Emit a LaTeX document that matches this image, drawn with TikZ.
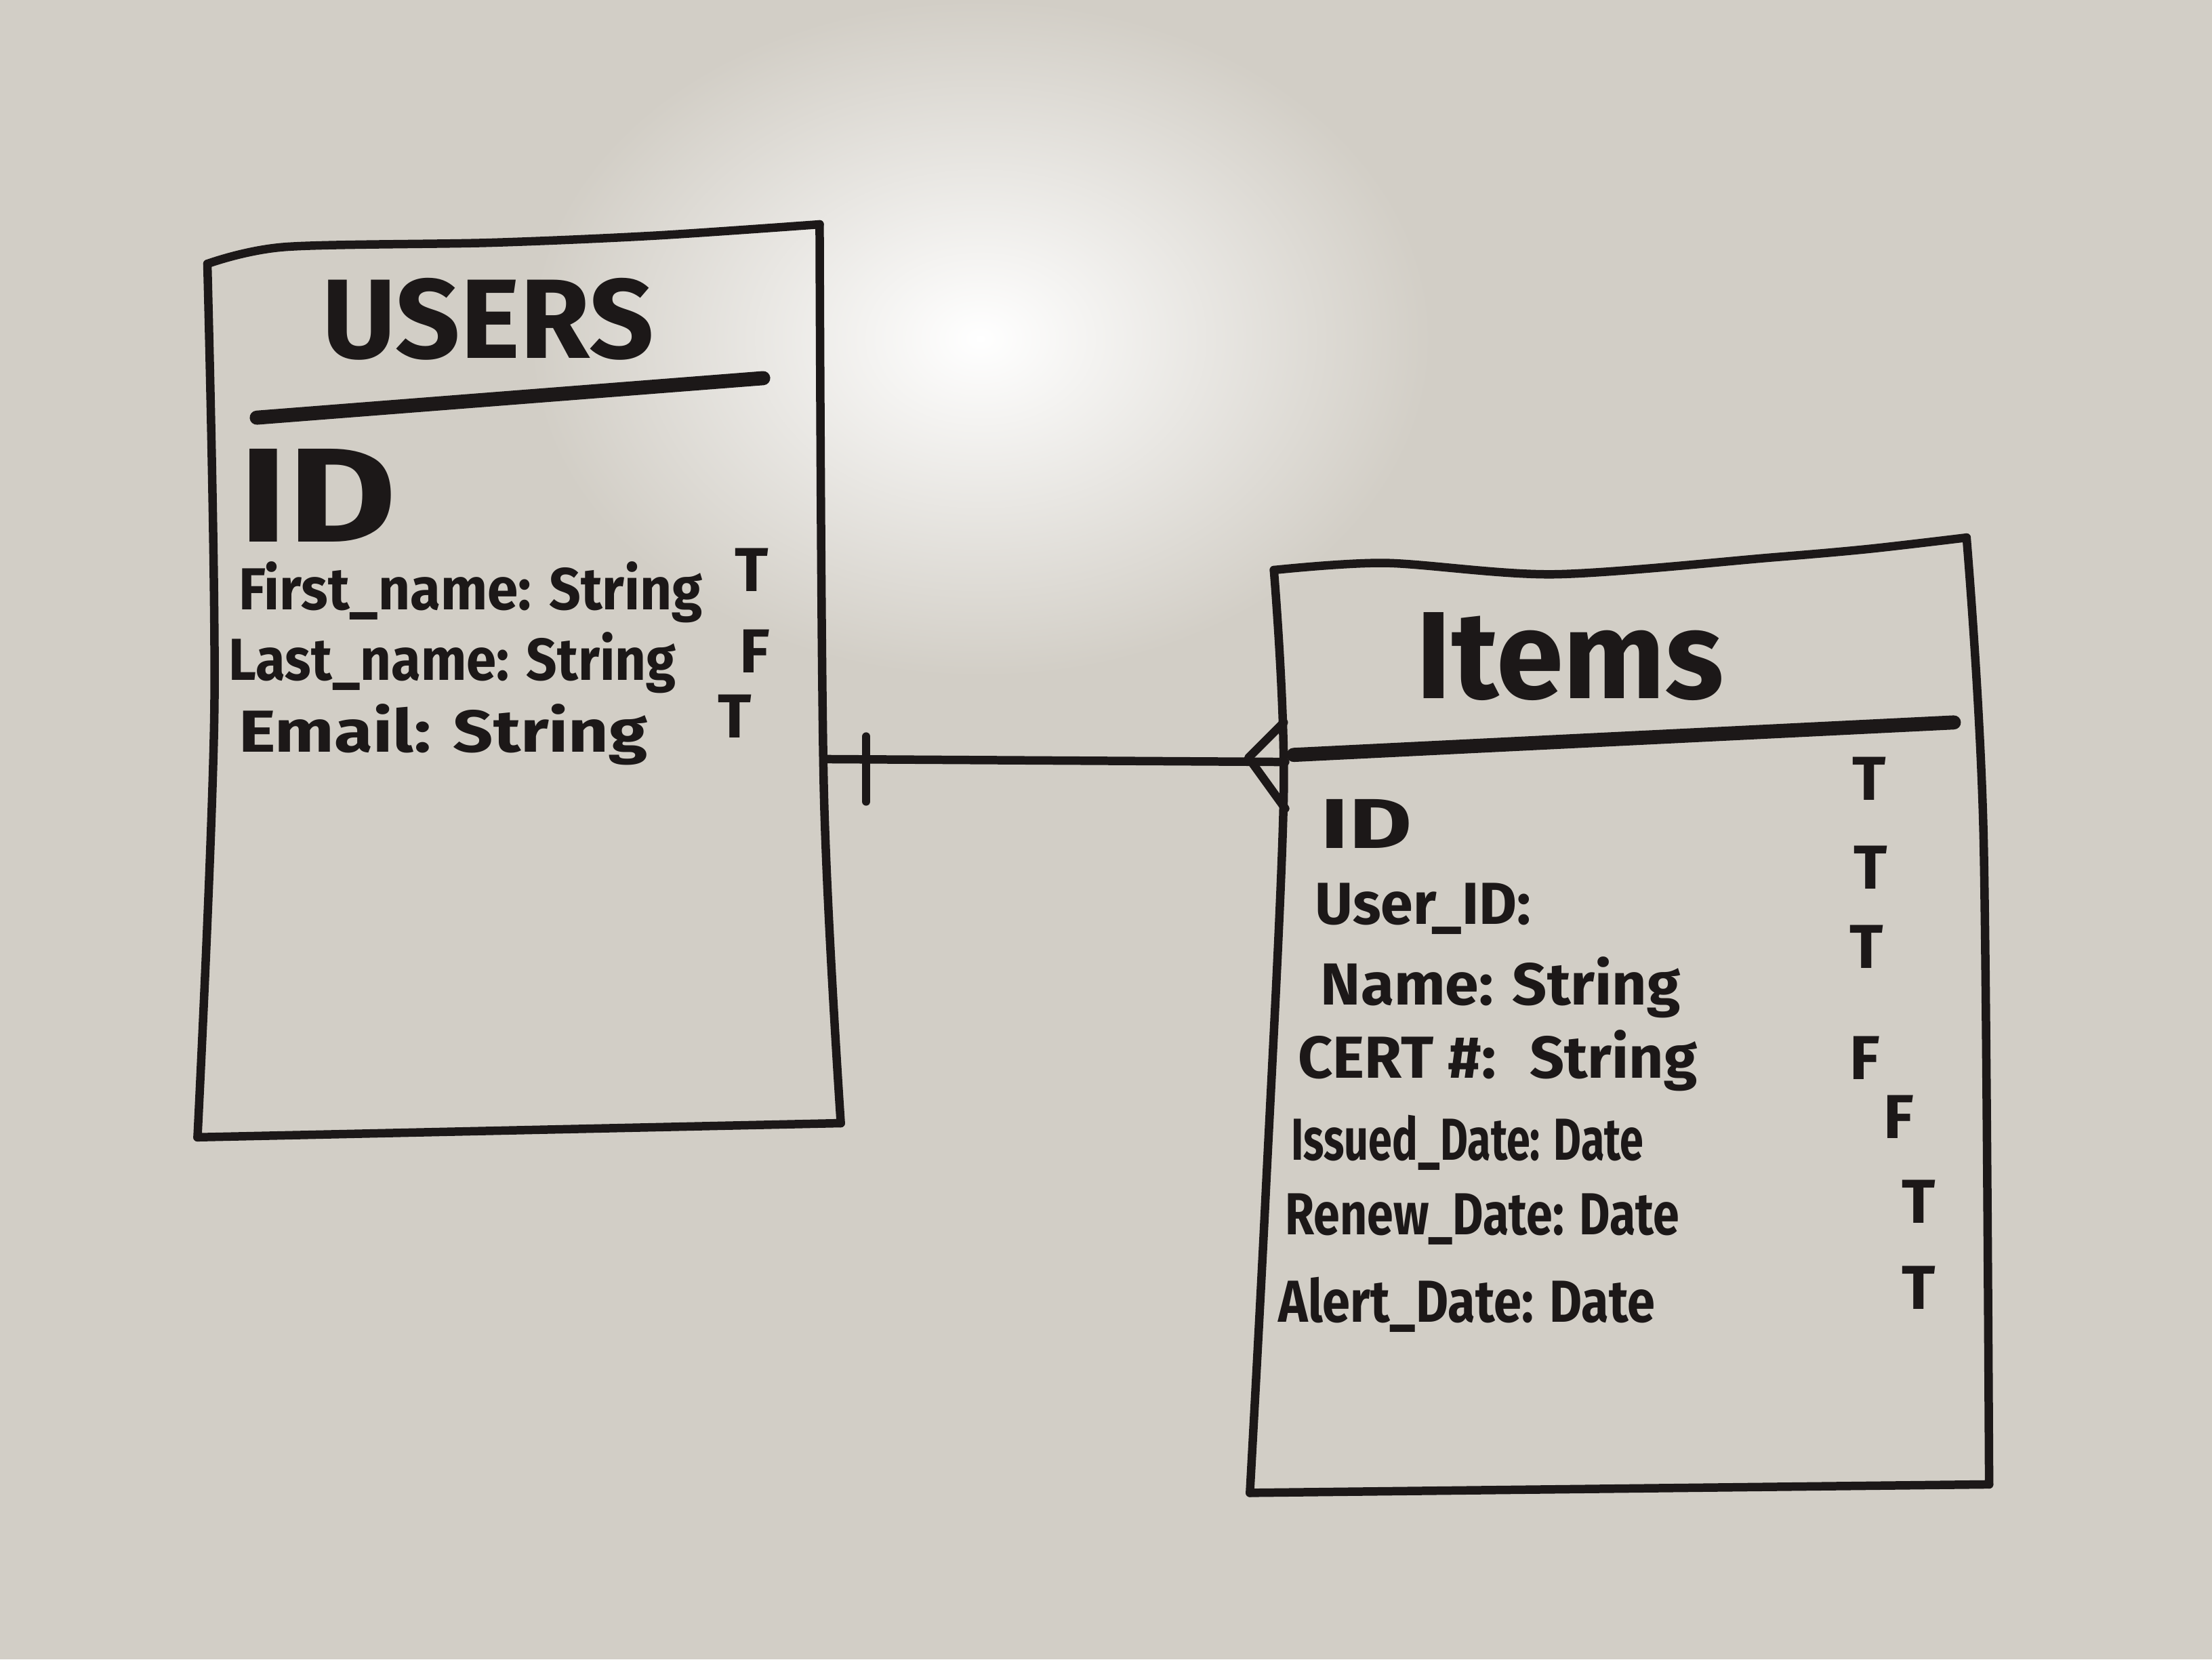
\documentclass[tikz,border=0pt]{standalone}
\usepackage{fontspec}
\setmainfont{Fira Sans}
\usepackage{graphicx}
\definecolor{wb}{RGB}{210,206,198}
\definecolor{ink}{RGB}{28,24,24}
\newcommand\fitw[2]{\resizebox{#1}{\height}{#2}}
\begin{document}
\begin{tikzpicture}[x=1pt,y=-1pt,
  edge/.style={draw=ink,line width=6pt,line cap=round,line join=round},
  rulebar/.style={draw=ink,line width=10pt,line cap=round},
  title/.style={text=ink,inner sep=0pt,anchor=base},
  txt/.style={text=ink,inner sep=0pt,anchor=base west,font=\fontsize{42}{50}\selectfont\bfseries},
  flag/.style={text=ink,inner sep=0pt,anchor=base,font=\fontsize{44}{50}\selectfont\bfseries},
]
\fill[wb] (0,0) rectangle (1568,1176);
\useasboundingbox (0,0) rectangle (1568,1176);
\shade[inner color=white, outer color=wb] (695,240) ellipse [x radius=320, y radius=240];

% ---- Users table ----
\coordinate (uTL) at (147,187);
\coordinate (uTR) at (581,159);
\coordinate (uBR) at (596,796);
\coordinate (uBL) at (140,806);
\draw[edge] plot[smooth,tension=0.5] coordinates {(uTL) (202,175) (348,172) (464,167) (uTR)};
\draw[edge] plot[smooth,tension=0.5] coordinates {(uTR) (584,560) (uBR)};
\draw[edge] (uBR) -- (uBL);
\draw[edge] plot[smooth,tension=0.5] coordinates {(uTL) (152,500) (uBL)};
\draw[rulebar] (182,296) -- (541,268);

\node[title,font=\fontsize{80}{90}\selectfont\bfseries] (uTitle) at (346,254) {\fitw{235pt}{USERS}};
\node[txt,font=\fontsize{95}{100}\selectfont\bfseries] (uId) at (169,384) {\fitw{112pt}{ID}};
\node[txt] (u1) at (169,432) {\fitw{329pt}{First\_name: String}};
\node[txt] (u2) at (162,482) {\fitw{317pt}{Last\_name: String}};
\node[txt] (u3) at (169,533) {\fitw{290pt}{Email: String}};
\node[flag] (u1f) at (533,419) {T};
\node[flag] (u2f) at (535,477) {F};
\node[flag] (u3f) at (521,523) {T};

% ---- Items table ----
\coordinate (iTL) at (903,404);
\coordinate (iTR) at (1394,381);
\coordinate (iBR) at (1410,1052);
\coordinate (iBL) at (886,1058);
\draw[edge] plot[smooth,tension=0.5] coordinates {(iTL) (982,399) (1102,407) (1257,395) (1325,389) (iTR)};
\draw[edge] plot[smooth,tension=0.5] coordinates {(iTR) (1406,591) (iBR)};
\draw[edge] (iBR) -- (iBL);
\draw[edge] plot[smooth,tension=0.5] coordinates {(iTL) (910,560) (897,850) (iBL)};
\draw[rulebar] (917,535) -- (1385,512);

\node[title,font=\fontsize{88}{96}\selectfont\bfseries] (iTitle) at (1113,495) {\fitw{218pt}{Items}};
\node[txt,font=\fontsize{50}{56}\selectfont\bfseries] (iId) at (936,601) {\fitw{65pt}{ID}};
\node[txt] (i1) at (932,655) {\fitw{153pt}{User\_ID:}};
\node[txt] (i2) at (936,712) {\fitw{255pt}{Name: String}};
\node[txt] (i3) at (920,764) {\fitw{283pt}{CERT \#: \ String}};
\node[txt] (i4) at (915,822) {\fitw{250pt}{Issued\_Date: Date}};
\node[txt] (i5) at (911,875) {\fitw{279pt}{Renew\_Date: Date}};
\node[txt] (i6) at (906,937) {\fitw{267pt}{Alert\_Date: Date}};
\node[flag] (i0f) at (1325,567) {T};
\node[flag] (i1f) at (1326,630) {T};
\node[flag] (i2f) at (1323,686) {T};
\node[flag] (i3f) at (1322,765) {F};
\node[flag] (i4f) at (1346,807) {F};
\node[flag] (i5f) at (1360,867) {T};
\node[flag] (i6f) at (1360,928) {T};

% ---- relationship: one (Users) to many (Items) ----
\coordinate (uE) at (585,538);
\coordinate (iW) at (911,540);
\coordinate (oneBar) at (614,539);
\coordinate (crow) at (885,537);
\draw[edge] (uE) -- (iW);
\draw[edge] (oneBar) ++(0,-17) -- ++(0,46);
\draw[edge] (910,512) -- (crow) -- (911,573);
\end{tikzpicture}
\end{document}
